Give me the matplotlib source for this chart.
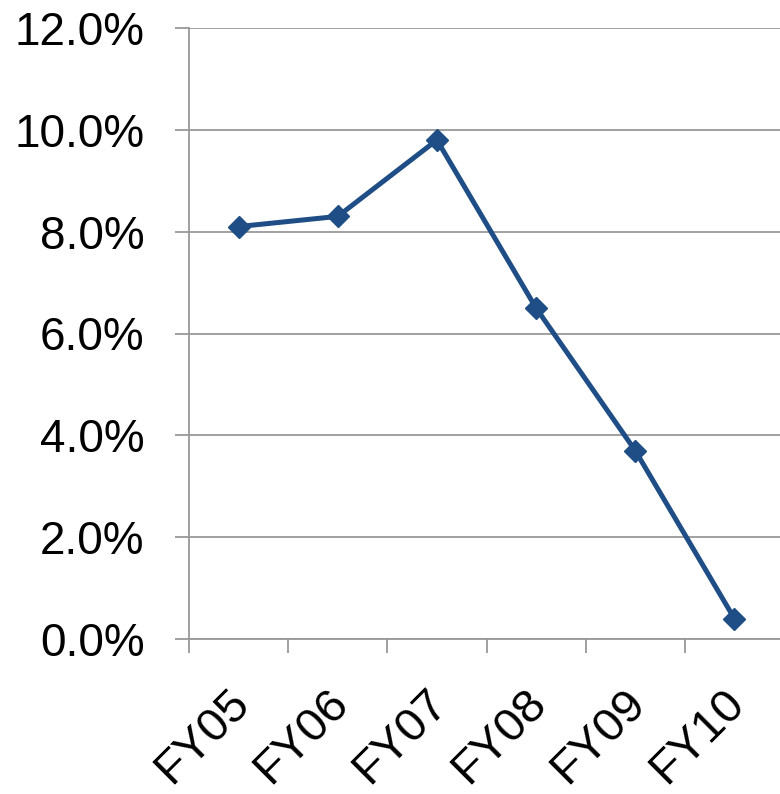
import matplotlib.pyplot as plt
import matplotlib.transforms as mtransforms
from matplotlib.ticker import FixedLocator, NullFormatter

plt.rcParams['font.family'] = ['Liberation Sans', 'DejaVu Sans']

# Adatok
years = ["FY05", "FY06", "FY07", "FY08", "FY09", "FY10"]
values = [8.1, 8.3, 9.8, 6.5, 3.7, 0.4]

fig = plt.figure(figsize=(7.8, 7.94), dpi=100)
ax = fig.add_axes([189 / 780, 155 / 794, 595 / 780, 611 / 794])

pos = [i + 0.5 for i in range(len(years))]
ax.plot(pos, values, color="#1F4E86", linewidth=3.6, marker="D",
        markersize=11, zorder=3, clip_on=False)

ax.set_xlim(0, len(years))
ax.set_ylim(0, 12)

# y tengely
ax.set_yticks(range(0, 13, 2))
ax.set_yticklabels([f"{v:.1f}%" for v in range(0, 13, 2)])
ax.grid(axis="y", color="#999999", linewidth=1.3)
ax.set_axisbelow(True)

# x tengely: osztások a kategóriák határán, feliratok középen
ax.xaxis.set_major_locator(FixedLocator(range(0, len(years) + 1)))
ax.xaxis.set_major_formatter(NullFormatter())
ax.xaxis.set_minor_locator(FixedLocator(pos))
ax.set_xticklabels(years, minor=True, rotation=45, ha="right",
                   rotation_mode="anchor")

ax.tick_params(axis="y", which="major", length=10, width=1.3,
               color="#999999", labelsize=33, pad=22)
ax.tick_params(axis="x", which="major", length=10, width=1.3,
               color="#999999")
ax.tick_params(axis="x", which="minor", length=0, labelsize=34, pad=30)

# feliratok kicsit balra tolva
offset = mtransforms.ScaledTranslation(-12 / 100, 0, fig.dpi_scale_trans)
for lbl in ax.get_xticklabels(minor=True):
    lbl.set_transform(lbl.get_transform() + offset)

for s in ["top", "right"]:
    ax.spines[s].set_visible(False)
for s in ["left", "bottom"]:
    ax.spines[s].set_color("#999999")
    ax.spines[s].set_linewidth(1.3)

fig.savefig("out.png", dpi=100)
